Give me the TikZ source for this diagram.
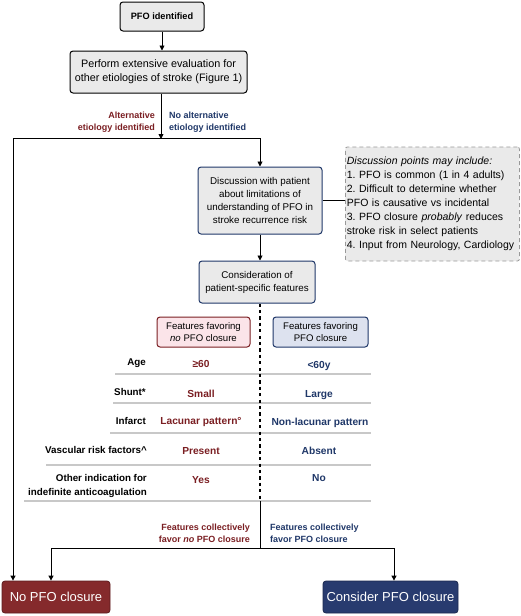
\documentclass[tikz,border=0pt]{standalone}
\usepackage{fontspec}
\setmainfont{Liberation Sans}
\usetikzlibrary{arrows.meta}
\frenchspacing
\definecolor{dred}{HTML}{7A1E22}
\definecolor{dnavy}{HTML}{1F3768}
\definecolor{boxred}{HTML}{852A2C}
\definecolor{boxnavy}{HTML}{283B6F}
\definecolor{lgray}{HTML}{EAEAEA}
\definecolor{pinkf}{HTML}{FBE4E9}
\definecolor{bluef}{HTML}{DDE2EF}
\definecolor{sepgray}{HTML}{C8C8C8}
\tikzset{
  arr/.style={draw=black,line width=0.9pt,-{Triangle[length=5pt,width=5pt]}},
  ln/.style={draw=black,line width=0.9pt},
  gbox/.style={draw=black,fill=lgray,rounded corners=3pt,line width=1pt,align=center,inner sep=0pt,font=\fontsize{10.8}{14}\selectfont},
  nbox/.style={draw=dnavy,fill=lgray,rounded corners=3pt,line width=1pt,align=center,inner sep=0pt,font=\fontsize{9.8}{13}\selectfont},
  redlbl/.style={text=dred,font=\bfseries\fontsize{9.0}{12}\selectfont,inner sep=0pt},
  bluelbl/.style={text=dnavy,font=\bfseries\fontsize{9.0}{12}\selectfont,inner sep=0pt},
  rowlbl/.style={anchor=east,align=right,font=\bfseries\fontsize{9.8}{13}\selectfont,inner sep=0pt},
  redval/.style={text=dred,font=\bfseries\fontsize{10.2}{13}\selectfont,inner sep=0pt},
  blueval/.style={text=dnavy,font=\bfseries\fontsize{10.2}{13}\selectfont,inner sep=0pt},
  sep/.style={draw=sepgray,line width=1.4pt},
  endbox/.style={rounded corners=3pt,text=white,inner sep=0pt,font=\fontsize{13}{16}\selectfont}
}
\begin{document}
\begin{tikzpicture}[x=1pt,y=-1pt]
\useasboundingbox (0,0) rectangle (520,616);
% top boxes
\node[gbox,font=\bfseries\fontsize{9.2}{12}\selectfont,minimum width=84pt,minimum height=29pt] (pfo) at (162,16.5) {PFO identified};
\node[gbox,minimum width=177pt,minimum height=42pt] (eval) at (158.5,72) {Perform extensive evaluation for\\other etiologies of stroke (Figure 1)};
\draw[arr] (pfo.south) -- (pfo.south |- eval.north);
\coordinate (jc) at (161,138);
\coordinate (jl) at (13,138);
\coordinate (jr) at (260,138);
\draw[arr] (jc |- eval.south) -- ([yshift=-1pt]jc);
\draw[ln] (jl) -- (jr);
\node[redlbl,anchor=east,align=right] (altlbl) at (155,122) {Alternative\\etiology identified};
\node[bluelbl,anchor=west,align=left] (noaltlbl) at (169,122) {No alternative\\etiology identified};
% discussion
\node[nbox,minimum width=124pt,minimum height=67pt] (disc) at (260,200.5) {Discussion with patient\\about limitations of\\understanding of PFO in\\stroke recurrence risk};
\draw[arr] (jr) -- (disc.north);
\node[draw=gray!80,dashed,dash pattern=on 4pt off 3pt,fill=lgray,rounded corners=2pt,line width=0.8pt,text width=171pt,minimum height=114pt,inner sep=1.5pt,align=left,anchor=west,font=\fontsize{10.5}{14}\selectfont] (dpts) at (345,204) {\textit{Discussion points may include:}\\1. PFO is common (1 in 4 adults)\\2. Difficult to determine whether\\PFO is causative vs incidental\\3. PFO closure \textit{probably} reduces\\stroke risk in select patients\\4. Input from Neurology, Cardiology};
\draw[ln] (disc.east) -- (disc.east -| dpts.west);
\node[nbox,minimum width=116pt,minimum height=42pt] (cons) at (257,282) {Consideration of\\patient-specific features};
\draw[arr] (disc.south) -- (disc.south |- cons.north);
% feature headers
\node[draw=dred,fill=pinkf,rounded corners=3pt,line width=1pt,minimum width=93pt,minimum height=30pt,inner sep=0pt,align=center,font=\fontsize{9.6}{12.5}\selectfont] (fno) at (203.5,332) {Features favoring\\\textit{no} PFO closure};
\node[draw=dnavy,fill=bluef,rounded corners=3pt,line width=1pt,minimum width=95pt,minimum height=30pt,inner sep=0pt,align=center,font=\fontsize{9.6}{12.5}\selectfont] (fyes) at (320.5,332) {Features favoring\\PFO closure};
% table
\node[rowlbl] (lage) at (146,363) {Age};
\node[redval] (vage1) at (201,364) {≥60};
\node[blueval] (vage2) at (319,366) {<60y};
\draw[sep] (115,374) -- (371,374);
\node[rowlbl] (lsh) at (146,392) {Shunt*};
\node[redval] (vsh1) at (201,393.5) {Small};
\node[blueval] (vsh2) at (319,395.5) {Large};
\draw[sep] (113,403) -- (371,403);
\node[rowlbl] (linf) at (146,421) {Infarct};
\node[redval] (vinf1) at (201,422) {Lacunar pattern°};
\node[blueval] (vinf2) at (320,423) {Non-lacunar pattern};
\draw[sep] (110,433) -- (371,433);
\node[rowlbl] (lvas) at (147,450) {Vascular risk factors\textasciicircum};
\node[redval] (vvas1) at (201,451.5) {Present};
\node[blueval] (vvas2) at (319,451) {Absent};
\draw[sep] (46,465) -- (371,465);
\node[rowlbl,font=\bfseries\fontsize{9.8}{13.5}\selectfont] (loth) at (147,486) {Other indication for\\indefinite anticoagulation};
\node[redval] (voth1) at (201,480.5) {Yes};
\node[blueval] (voth2) at (319,478.5) {No};
\draw[sep] (24,501) -- (371,501);
% dashed spine
\coordinate (d1) at (260,501);
\coordinate (d2) at (260,548);
\draw[draw=black,line width=1.3pt,dash pattern=on 3.2pt off 3.2pt] (cons.south -| d1) -- (d1);
\draw[ln] (d1) -- (d2);
\coordinate (bl) at (51,548);
\coordinate (br) at (394,548);
\draw[ln] (bl) -- (br);
\node[redlbl,anchor=east,align=right] (colno) at (250,533) {Features collectively\\favor \textit{no} PFO closure};
\node[bluelbl,anchor=west,align=left] (colyes) at (270,533) {Features collectively\\favor PFO closure};
% end boxes
\node[endbox,fill=boxred,draw=boxred!70!black,line width=0.8pt,minimum width=108pt,minimum height=32pt] (nopfo) at (56,597) {No PFO closure};
\node[endbox,fill=boxnavy,draw=boxnavy!70!black,line width=0.8pt,minimum width=135pt,minimum height=32pt] (cpfo) at (390.5,597) {Consider PFO closure};
\draw[arr] (jl) -- (jl |- nopfo.north);
\draw[arr] (bl) -- (bl |- nopfo.north);
\draw[arr] (br) -- (br |- cpfo.north);
\end{tikzpicture}
\end{document}
